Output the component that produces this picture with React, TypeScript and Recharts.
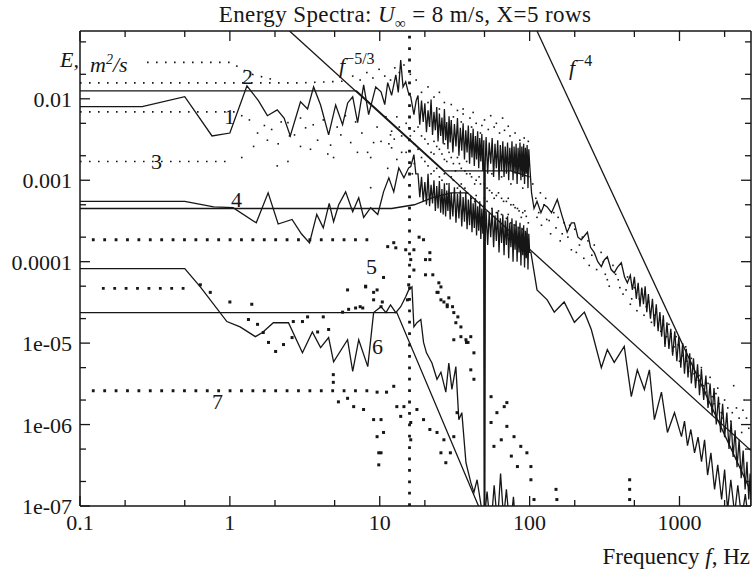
import React from "react";
import { ComposedChart, Line, Scatter, XAxis, YAxis, ReferenceLine } from "recharts";

type Pt = [number, number | null];

// plot box in page pixels
const PL = 80;
const PR = 751;
const PT = 31;
const PB = 506;

const X_TICKS = [0.1, 0.2, 0.5, 1, 2, 5, 10, 20, 50, 100, 200, 500, 1000, 2000];
const X_LABELS = new Map<number, string>([
  [0.1, "0.1"],
  [1, "1"],
  [10, "10"],
  [100, "100"],
  [1000, "1000"],
]);
const Y_TICKS = [
  1e-7, 2e-7, 5e-7, 1e-6, 2e-6, 5e-6, 1e-5, 2e-5, 5e-5, 1e-4, 2e-4, 5e-4, 0.001, 0.002, 0.005, 0.01,
  0.02, 0.05,
];
const Y_LABELS = new Map<number, string>([
  [1e-7, "1e-07"],
  [1e-6, "1e-06"],
  [1e-5, "1e-05"],
  [1e-4, "0.0001"],
  [0.001, "0.001"],
  [0.01, "0.01"],
]);

// spectrum 1 (upper solid), low frequencies
const curve1Low: Pt[] = [
  [0.1, 0.008], [0.26, 0.008], [0.5, 0.0106], [0.76, 0.0035], [1.0, 0.0038], [1.3, 0.0144],
  [1.55, 0.0095], [1.78, 0.0062], [2.07, 0.0073], [2.3, 0.0058], [2.53, 0.0035], [2.96, 0.0092],
  [3.3, 0.0075], [3.62, 0.014], [4.03, 0.0084], [4.56, 0.0036], [5.08, 0.0084], [5.65, 0.0048],
  [6.11, 0.0089], [6.6, 0.0106], [7.12, 0.0051], [7.81, 0.0148], [8.43, 0.0064], [9.4, 0.014],
  [10.2, 0.0122], [10.8, 0.0085], [11.3, 0.0158], [12.0, 0.011], [12.8, 0.0197], [13.3, 0.012],
  [13.8, 0.03], [14.3, 0.014], [14.9, 0.0162], [15.5, 0.012], [16.1, 0.0106], [16.9, 0.0064],
  [17.5, 0.0095],
];

// frequencies of the dense 18-100 Hz records (spectra 1 and 4)
const bandF = [
  18, 18.5, 19, 19.5, 20, 20.5, 21, 21.5, 22, 22.5, 23, 23.5, 24, 24.5, 25, 25.5, 26, 26.5, 27, 27.5,
  28, 28.5, 29, 29.5, 30, 30.75, 31.5, 32.25, 33, 33.75, 34.5, 35.25, 36, 36.75, 37.5, 38.25, 39, 39.75,
  40.5, 41.25, 42, 42.75, 43.5, 44.25, 45, 45.75, 46.5, 47.25, 48, 48.75, 49.5, 50, 50.5, 51.25, 52.5,
  53.75, 55, 56.25, 57.5, 58.75, 60, 61.25, 62.5, 63.75, 65, 66.25, 67.5, 68.75, 70, 71.25, 72.5, 73.75,
  75, 76.25, 77.5, 78.75, 80, 81.25, 82.5, 83.75, 85, 86.25, 87.5, 88.75, 90, 91.25, 92.5, 93.75, 95,
  96.25, 97.5, 98.75, 100,
];
const band1E = [
  0.011, 0.0048, 0.0095, 0.0052, 0.0088, 0.0039, 0.0072, 0.0045, 0.0098, 0.0036, 0.0069, 0.0041, 0.0079,
  0.003, 0.0066, 0.0035, 0.0059, 0.0028, 0.0075, 0.0031, 0.0052, 0.0024, 0.0061, 0.0029, 0.0055, 0.0022,
  0.0049, 0.0026, 0.0058, 0.002, 0.0044, 0.0023, 0.005, 0.0018, 0.0041, 0.0022, 0.0047, 0.0016, 0.0038,
  0.0019, 0.0043, 0.0015, 0.0035, 0.0018, 0.004, 0.0014, 0.0033, 0.0017, 0.0037, 0.0013, 0.0031, 1e-8,
  0.0015, 0.0034, 0.0012, 0.0029, 0.0016, 0.0033, 0.0011, 0.0028, 0.0014, 0.0031, 0.001, 0.0027, 0.0013,
  0.003, 0.0011, 0.0026, 0.0012, 0.0029, 0.001, 0.0025, 0.0013, 0.003, 0.001, 0.0026, 0.0012, 0.0028,
  0.0009, 0.0025, 0.0012, 0.0029, 0.001, 0.0026, 0.0011, 0.0028, 0.0009, 0.0025, 0.0012, 0.0027, 0.0008,
  0.0024, 0.0016,
];
const band4E = [
  0.0012, 0.00062, 0.0011, 0.00055, 0.00095, 0.0005, 0.0012, 0.00048, 0.00088, 0.00052, 0.001, 0.00042,
  0.00085, 0.00045, 0.00098, 0.0004, 0.00078, 0.00038, 0.00092, 0.00036, 0.00075, 0.00042, 0.00088,
  0.00033, 0.0007, 0.00036, 0.00082, 0.0003, 0.00068, 0.00034, 0.00075, 0.00027, 0.00062, 0.00031,
  0.0007, 0.00025, 0.00058, 0.00028, 0.00065, 0.00023, 0.00052, 0.00026, 0.0006, 0.00021, 0.00048,
  0.00024, 0.00055, 0.00019, 0.00045, 0.00022, 0.0005, 1e-8, 0.00018, 0.00042, 0.00016, 0.0004, 0.0002,
  0.00045, 0.00015, 0.00037, 0.00018, 0.00041, 0.00013, 0.00034, 0.00017, 0.00038, 0.00012, 0.00032,
  0.00016, 0.00036, 0.00011, 0.0003, 0.00015, 0.00034, 0.0001, 0.00029, 0.00014, 0.00032, 0.0001,
  0.00027, 0.00013, 0.0003, 0.00009, 0.00026, 0.00012, 0.00028, 0.000085, 0.00024, 0.00011, 0.00026,
  0.00008, 0.00022, 0.00013,
];

// spectrum 1 above 100 Hz
const curve1High: Pt[] = [
  [103, 0.0007], [107, 0.00045], [112, 0.00055], [119, 0.0004], [125, 0.0005], [131, 0.00047],
  [140, 0.0004], [153, 0.00058], [165, 0.00036], [178, 0.00023], [190, 0.0003], [199, 0.0003],
  [210, 0.0002], [221, 0.000186], [243, 0.00023], [255, 0.00015], [270, 0.000129], [285, 0.0001],
  [301, 8.7e-5], [315, 0.000105], [330, 0.000115], [350, 8e-5], [367, 7.3e-5], [385, 8.5e-5],
  [409, 9.7e-5], [430, 6.5e-5], [449, 5.5e-5], [470, 6.8e-5], [485, 4.5e-5], [500, 6.5e-5],
  [515, 3.5e-5], [530, 5.5e-5], [545, 2.8e-5], [560, 4.8e-5], [575, 3e-5], [590, 5e-5], [605, 2.4e-5],
  [620, 4e-5], [640, 2e-5], [660, 3.5e-5], [680, 1.6e-5], [700, 3e-5], [720, 1.4e-5], [740, 2.4e-5],
  [760, 1.2e-5], [780, 2.2e-5], [800, 9e-6], [825, 1.8e-5], [850, 8.5e-6], [875, 1.5e-5], [900, 7e-6],
  [930, 1.4e-5], [960, 6e-6], [990, 1.2e-5], [1020, 5e-6], [1050, 1e-5], [1080, 4.2e-6], [1110, 8.5e-6],
  [1140, 3.8e-6], [1170, 7.5e-6], [1200, 3.2e-6], [1240, 6.5e-6], [1280, 2.8e-6], [1320, 5.5e-6],
  [1360, 2.3e-6], [1400, 4.8e-6], [1450, 2e-6], [1500, 4e-6], [1550, 1.6e-6], [1600, 3.2e-6],
  [1650, 1.3e-6], [1700, 2.8e-6], [1760, 1e-6], [1820, 2.2e-6], [1880, 8e-7], [1940, 1.8e-6],
  [2000, 7e-7], [2070, 1.4e-6], [2140, 5e-7], [2210, 1.1e-6], [2280, 4e-7], [2350, 8.5e-7], [2420, 3e-7],
  [2500, 6.5e-7], [2580, 2.2e-7], [2660, 4.8e-7], [2740, 1.6e-7], [2820, 3.5e-7], [2900, 1.2e-7],
  [2960, 2.5e-7], [3000, 1e-7],
];

// spectrum 4 (middle solid)
const curve4Low: Pt[] = [
  [0.1, 0.00055], [0.5, 0.00055], [0.78, 0.00047], [1.05, 0.00046], [1.5, 0.0003], [1.8, 0.0007],
  [2.1, 0.00029], [2.6, 0.00033], [3.0, 0.00022], [3.4, 0.00017], [3.8, 0.00038], [4.2, 0.00026],
  [4.6, 0.00052], [4.92, 0.00031], [5.32, 0.0005], [5.92, 0.00072], [6.6, 0.00041], [7.24, 0.00061],
  [7.81, 0.00035], [8.7, 0.00046], [9.7, 0.00038], [10.6, 0.00072], [11.5, 0.00107], [12.4, 0.00072],
  [13.4, 0.00142], [14.5, 0.00107], [15.6, 0.00142], [16.1, 0.00147], [16.9, 0.00206], [17.4, 0.0012],
];
const curve4High: Pt[] = [
  [102, 0.00013], [112, 4.5e-5], [131, 3.4e-5], [146, 2.4e-5], [170, 3.2e-5], [199, 1.8e-5],
  [232, 2.4e-5], [258, 1.47e-5], [301, 5e-6], [330, 8.3e-6], [367, 5.8e-6], [428, 9.1e-6], [477, 2.2e-6],
  [523, 4.7e-6], [583, 2.7e-6], [630, 4.7e-6], [680, 1.15e-6], [758, 2.5e-6], [831, 8e-7], [926, 1.4e-6],
  [1031, 7.1e-7], [1080, 1.1e-6], [1131, 5.5e-7], [1190, 8.7e-7], [1260, 4.5e-7], [1330, 7e-7],
  [1403, 3.5e-7], [1470, 6.5e-7], [1540, 2.4e-7], [1620, 4.5e-7], [1714, 1.6e-7], [1800, 3.2e-7],
  [1910, 1.2e-7], [2000, 2.8e-7], [2094, 9e-8], [2200, 2.1e-7], [2333, 8e-8], [2450, 1.8e-7],
  [2600, 7e-8], [2750, 1.4e-7], [2900, 6e-8],
];

// spectrum 6 (lower solid)
const curve6: Pt[] = [
  [0.1, 8.2e-5], [0.5, 8.2e-5], [0.635, 4.9e-5], [0.955, 1.84e-5], [1.17, 1.58e-5], [1.48, 1.2e-5],
  [1.65, 1.35e-5], [1.95, 1.78e-5], [2.46, 1.78e-5], [3.05, 7.6e-6], [3.55, 1.37e-5], [4.03, 8.8e-6],
  [4.56, 1.17e-5], [4.92, 5.9e-6], [6.1, 1.1e-5], [6.6, 4.5e-6], [7.24, 1.1e-5], [8.32, 5.15e-6],
  [9.1, 2.37e-5], [10.2, 2.8e-5], [11.0, 2.37e-5], [11.8, 2.95e-5], [12.8, 2.37e-5], [13.8, 2.8e-5],
  [14.9, 3.7e-5], [15.6, 4.5e-5], [16.4, 4.9e-5], [16.9, 1.58e-5], [17.7, 1.78e-5], [18.8, 1.95e-5],
  [19.6, 1.02e-5], [20.5, 7.6e-6], [22.3, 5.7e-6], [24.1, 3.6e-6], [25.6, 4.4e-6], [27.6, 2.5e-6],
  [28.9, 5.7e-6], [30.3, 2.7e-6], [32.2, 5.15e-6], [33.7, 1.15e-6], [35.3, 1.4e-6], [37.6, 3.4e-7],
  [40.5, 1.95e-7], [42.5, 1.47e-7], [44.6, 2.1e-7], [47.5, 1e-7], [49, 5e-8], [52, 1.5e-7],
  [55, 5e-8], [58, 1.8e-7], [61, 6e-8], [64, 2.5e-7], [67, 7e-8], [70, 1.6e-7], [74, 5e-8],
  [78, 1.3e-7], [82, 4e-8],
];

// smooth model spectra
const model1: Pt[] = [[0.1, 0.0125], [7, 0.0125], [27, 0.0013], [75, 0.0013], [100, 0.0011]];
const model4: Pt[] = [[0.1, 0.00045], [12, 0.00045], [17, 0.0005], [23, 0.00062], [30, 0.0007], [39, 0.0007]];
const model6: Pt[] = [[0.1, 2.37e-5], [13, 2.37e-5], [48, 8e-8]];

// slope guides
const slope53: Pt[] = [[2.5, 0.068], [3000, 4.8e-7]];
const slope4: Pt[] = [[112, 0.068], [3000, 1.5e-7]];

// dotted spectra: flat parts
const dotA: Pt[] = [[0.28, 0.028], [1.0, 0.028], [1.4, 0.02], [2.0, 0.017]];
const dotB: Pt[] = [[0.1, 0.0157], [3.0, 0.0157], [6.0, 0.0165]];
const dotC: Pt[] = [[0.1, 0.0069], [1.1, 0.0069]];
const dotD: Pt[] = [[0.1, 0.0017], [1.0, 0.0017]];
const dot5: Pt[] = [[0.12, 0.000186], [9, 0.000186]];
const spike5: Pt[] = [[15.8, 1e-7], [15.8, 0.068]];
const dotF: Pt[] = [[0.14, 4.7e-5], [0.55, 4.7e-5]];
const dot7: Pt[] = [[0.12, 2.6e-6], [9.5, 2.6e-6]];

// small scattered dots (spectra 2, 3)
const fineDots: Pt[] = [
  [1.2, 0.0062], [1.35, 0.0055], [1.53, 0.0038], [1.7, 0.0047], [1.9, 0.0042], [2.07, 0.0015],
  [2.2, 0.0052], [2.44, 0.0051], [2.44, 0.0017], [2.7, 0.0036], [2.96, 0.0026], [2.96, 0.0058],
  [3.2, 0.0044], [3.45, 0.0024], [3.6, 0.0048], [3.85, 0.0031], [4.2, 0.0055], [4.5, 0.0021],
  [4.7, 0.0027], [4.92, 0.0019], [5.2, 0.0045], [5.5, 0.0036], [5.9, 0.0062], [6.4, 0.0029],
  [6.9, 0.0052], [7.1, 0.0022], [7.6, 0.0038], [8.3, 0.0022], [8.7, 0.0019], [8.7, 0.00081],
  [9.1, 0.0029], [9.6, 0.0045], [10.2, 0.003], [11.3, 0.0014], [11.8, 0.0036],
  [1.2, 0.0019], [1.44, 0.0026], [1.78, 0.0031], [2.1, 0.0028], [2.5, 0.0035],
  [6.6, 0.019], [7.4, 0.017], [8.2, 0.021], [9.0, 0.018], [9.9, 0.023], [10.8, 0.019],
  [11.8, 0.017], [12.6, 0.024], [13.5, 0.021], [14.5, 0.026], [16, 0.02], [17.5, 0.017],
  [19, 0.012], [21, 0.014], [23, 0.0105], [25, 0.012], [27, 0.009], [30, 0.0085], [33, 0.0072],
  [36, 0.0065], [40, 0.0058], [44, 0.005], [48, 0.0047], [53, 0.0042], [58, 0.0045], [63, 0.0038],
  [68, 0.0041], [74, 0.0035], [80, 0.0038], [86, 0.0031], [92, 0.0033], [98, 0.003],
  [36, 0.0075], [42, 0.0068], [50, 0.0055], [55, 0.0062], [60, 0.005], [66, 0.0058], [72, 0.0046],
  [12, 0.004], [12, 0.0025], [13, 0.006], [13, 0.0018], [14, 0.0035], [15, 0.005], [15, 0.0022],
  [17, 0.004], [17, 0.0016], [17, 0.0028], [19, 0.0035], [19, 0.0019], [21, 0.0028], [21, 0.0015],
  [21, 0.009], [23, 0.003], [23, 0.0013], [23, 0.0021], [25, 0.0024], [25, 0.0011], [25, 0.0075],
  [27, 0.0018], [27, 0.0012], [27, 0.0028], [29, 0.0022], [29, 0.0009], [31, 0.0016], [31, 0.001],
  [31, 0.006], [33, 0.0019], [33, 0.0008], [35, 0.0014], [35, 0.0009], [35, 0.0052], [38, 0.0012],
  [38, 0.0007], [38, 0.0017], [41, 0.0011], [41, 0.0006], [41, 0.0045], [44, 0.001], [44, 0.00065],
  [47, 0.0009], [47, 0.0005], [47, 0.0038], [52, 0.0008], [52, 0.00055], [56, 0.0007], [56, 0.00045],
  [56, 0.0012], [60, 0.00065], [60, 0.0004], [65, 0.0006], [65, 0.00038], [65, 0.0011], [70, 0.00055],
  [70, 0.00034], [75, 0.0005], [75, 0.0003], [75, 0.0009], [80, 0.00046], [80, 0.00028], [85, 0.00042],
  [85, 0.00026], [90, 0.0004], [90, 0.00025], [90, 0.0008], [95, 0.00036], [95, 0.00022],
  [11, 0.006], [11.5, 0.0028], [12.5, 0.0032], [13.5, 0.0045], [14, 0.0022], [16, 0.0035], [16.5, 0.0012],
  [18, 0.0045], [18, 0.0024], [20, 0.0032], [20, 0.0017], [22, 0.0022], [22, 0.0012], [24, 0.0026],
  [24, 0.0014], [26, 0.0021], [26, 0.001], [28, 0.0017], [28, 0.0009], [30, 0.0019], [30, 0.0011],
  [32, 0.0013], [34, 0.0016], [34, 0.00085], [37, 0.0013], [37, 0.0008], [40, 0.0012], [43, 0.0009],
  [43, 0.00055], [46, 0.0011], [50, 0.0009], [50, 0.0006], [54, 0.00075], [58, 0.0006], [62, 0.0007],
  [62, 0.00042], [67, 0.00055], [72, 0.0006], [72, 0.00038], [78, 0.0005], [83, 0.00045], [88, 0.00035],
  [93, 0.00042], [98, 0.0003],
  [105, 0.0009], [110, 0.0006], [112, 0.00035], [115, 0.0004], [118, 0.0007], [120, 0.00028],
  [125, 0.0005], [128, 0.0006], [130, 0.00033], [135, 0.00032], [138, 0.00022], [145, 0.0004],
  [150, 0.00026], [155, 0.00035], [160, 0.00018], [165, 0.00022], [170, 0.0003], [180, 0.0002],
  [185, 0.00028], [190, 0.00014], [200, 0.00025], [205, 0.00013], [215, 0.00016], [225, 0.0002],
  [230, 0.00011], [245, 0.00018], [250, 9e-5], [260, 0.00012], [270, 0.00016], [280, 8e-5], [300, 0.00013],
  [310, 0.0001], [320, 7e-5], [330, 6e-5], [340, 5e-5], [360, 9e-5], [375, 7e-5], [390, 6e-5], [400, 4.8e-5],
  [420, 4e-5], [440, 4.5e-5], [450, 6.5e-5], [470, 3e-5], [480, 3.5e-5], [500, 4.8e-5], [520, 2.5e-5],
  [540, 3.5e-5], [560, 4.5e-5], [580, 2.2e-5], [600, 2.8e-5], [620, 3.2e-5], [650, 1.8e-5], [680, 2.2e-5],
  [700, 2.6e-5], [720, 1.6e-5], [750, 1.4e-5], [780, 1.9e-5], [800, 1e-5], [820, 1.2e-5], [850, 1.7e-5],
  [880, 1.3e-5], [900, 8e-6], [920, 9e-6], [950, 1.2e-5], [980, 9.5e-6], [1000, 6e-6], [1050, 7e-6],
  [1100, 9e-6], [1120, 6e-6], [1150, 4.5e-6], [1200, 6.5e-6], [1250, 4.2e-6], [1300, 3.5e-6],
  [1350, 4e-6], [1400, 5e-6], [1450, 3e-6], [1500, 2.5e-6], [1550, 3.2e-6], [1600, 3.8e-6],
  [1650, 2.2e-6], [1700, 1.8e-6], [1750, 2.4e-6], [1800, 2.8e-6], [1850, 1.8e-6], [1900, 1.4e-6],
  [1950, 1.2e-6], [2000, 2e-6], [2100, 1.6e-6], [2200, 1.1e-6], [2250, 1.4e-6], [2300, 3e-6],
  [2400, 1.6e-6], [2500, 1.2e-6], [2600, 8e-7], [2650, 1.5e-6], [2700, 2e-6], [2800, 1.2e-6],
  [2900, 9e-7],
];

// large scattered dots (spectra 5, 7 and the one starting at 5e-5)
const bigDots: Pt[] = [
  [0.635, 5.2e-5], [0.74, 4.2e-5], [1.0, 3.2e-5], [1.4, 3e-5], [1.33, 1.95e-5], [1.53, 1.7e-5],
  [1.67, 1.35e-5], [1.81, 1.02e-5], [2.02, 7.9e-6], [2.28, 9.6e-6], [2.6, 1.17e-5], [2.65, 1.84e-5],
  [3.05, 1.84e-5], [3.3, 2.1e-5], [3.85, 1.37e-5], [4.2, 2.1e-5], [4.56, 1.47e-5], [4.9, 4.1e-6],
  [4.9, 3.3e-6], [5.65, 2.4e-5], [6.2, 2.6e-5], [6.9, 2.7e-5], [7.7, 2.7e-5], [6.1, 4.5e-5],
  [8.05, 5e-5], [9.1, 3.4e-5],
  [5.3, 1.9e-6], [6.1, 2.1e-6], [6.7, 1.66e-6], [7.8, 1.53e-6], [9.1, 1.15e-6], [9.6, 7.1e-7],
  [9.85, 4.5e-7], [9.85, 3.2e-7], [9.6, 2.5e-6], [10.2, 1.15e-6], [10.6, 8e-7], [10.2, 4.5e-7],
  [11.3, 0.000153], [12.4, 0.000171], [12.8, 0.000148], [14.9, 0.00014], [16.9, 0.00014],
  [18.3, 0.0002], [19.6, 0.000186], [20.2, 0.000106], [21.6, 0.000129], [21.6, 0.000106],
  [16.1, 0.000106], [16.9, 7.9e-5], [20.2, 6.9e-5], [22.6, 6.9e-5], [24.8, 5.5e-5], [25.6, 4.9e-5],
  [24.5, 4.2e-5], [26.8, 3.2e-5], [28.2, 2.95e-5], [28.9, 3.6e-5], [30.6, 2.8e-5], [31.2, 2.37e-5],
  [33.2, 2.1e-5], [32.2, 1.78e-5], [34.8, 1.58e-5], [37.6, 1.1e-5], [38.8, 1.02e-5], [40.5, 1.2e-5],
  [9.1, 4.2e-5], [10.6, 6.4e-5], [8.05, 4.9e-5], [7.4, 2.8e-5], [10.4, 3.2e-5], [15.6, 5.2e-5],
  [15.3, 3.4e-5], [10.2, 2.8e-5], [9.6, 4.5e-5],
  [12.4, 2.95e-6], [11.1, 2.5e-6], [13.0, 1.66e-6], [13.8, 1.26e-6], [14.5, 1.66e-6],
  [16.1, 1.06e-6], [17.7, 1.53e-6], [19.6, 1.15e-6], [21.6, 8.7e-7], [24.1, 8e-7], [26.8, 6.5e-7],
  [25.6, 4.5e-7], [27.6, 3.4e-7], [16.1, 6.5e-7],
  [24.1, 4.2e-5], [25.6, 3.4e-5], [28.2, 2.8e-5], [31.2, 1.1e-5], [34.8, 1.2e-5], [37.9, 1.02e-5],
  [42.5, 7.6e-6], [40.5, 4.7e-6], [42.5, 3.6e-6], [32.8, 1.4e-6], [31.2, 7.1e-7], [29.6, 4.5e-7],
  [55.3, 2.2e-6], [60.5, 1.4e-6], [67.7, 1.66e-6], [70.5, 9.5e-7], [78.7, 7.1e-7], [87.3, 5.4e-7],
  [95.9, 4.5e-7], [82.9, 3.05e-7], [102, 3.05e-7], [107, 1.2e-7], [64.7, 6.5e-7], [55.3, 1.06e-6],
  [70.5, 1.86e-6], [57.8, 5.4e-7], [75.5, 4.1e-7], [102, 2.1e-7], [150, 1.6e-7], [152, 1.2e-7],
  [465, 2.1e-7], [465, 1.6e-7], [465, 1.2e-7],
];

const toRows = (pts: Pt[]) => pts.map(([f, e]) => ({ f, e }));
const zipRows = (fs: number[], es: number[]) => fs.map((f, i) => ({ f, e: es[i] }));

const INK = "#161616";
const FONT = '"Liberation Serif", "DejaVu Serif", serif';

function XTick(props: any) {
  const { x, payload } = props;
  const label = X_LABELS.get(payload.value);
  const len = label ? 10 : 6;
  return (
    <g>
      <line x1={x} x2={x} y1={PB} y2={PB - len} stroke={INK} strokeWidth={1.3} />
      <line x1={x} x2={x} y1={PT} y2={PT + len} stroke={INK} strokeWidth={1.3} />
      {label && (
        <text x={x} y={PB + 24} textAnchor="middle" fontFamily={FONT} fontSize={22} fill={INK}>
          {label}
        </text>
      )}
    </g>
  );
}

function YTick(props: any) {
  const { y, payload } = props;
  const label = Y_LABELS.get(payload.value);
  const len = label ? 10 : 6;
  return (
    <g>
      <line x1={PL} x2={PL + len} y1={y} y2={y} stroke={INK} strokeWidth={1.3} />
      <line x1={PR} x2={PR - len} y1={y} y2={y} stroke={INK} strokeWidth={1.3} />
      {label && (
        <text x={72} y={y + 8} textAnchor="end" fontFamily={FONT} fontSize={22} fill={INK}>
          {label}
        </text>
      )}
    </g>
  );
}

const fineShape = (p: any) => <rect x={p.cx - 0.8} y={p.cy - 0.8} width={1.6} height={1.6} fill={INK} />;
const bigShape = (p: any) => <rect x={p.cx - 1.5} y={p.cy - 1.5} width={3} height={3} fill={INK} />;

const txt: React.CSSProperties = {
  position: "absolute",
  fontFamily: FONT,
  fontSize: 22,
  lineHeight: "22px",
  color: INK,
  whiteSpace: "nowrap",
};

export default function App() {
  const solid = (rows: { f: number; e: number | null }[], key: string, w = 1.3) => (
    <Line
      key={key}
      data={rows}
      dataKey="e"
      stroke={INK}
      strokeWidth={w}
      dot={false}
      isAnimationActive={false}
    />
  );
  const dotted = (pts: Pt[], key: string, big: boolean) => (
    <Line
      key={key}
      data={toRows(pts)}
      dataKey="e"
      stroke={INK}
      strokeWidth={big ? 2.8 : 1.6}
      strokeDasharray={big ? "2.8 8.6" : "1.6 7.4"}
      dot={false}
      isAnimationActive={false}
    />
  );

  const curve1Rows = [...toRows(curve1Low), ...zipRows(bandF, band1E), ...toRows(curve1High)];
  const curve4Rows = [...toRows(curve4Low), ...zipRows(bandF, band4E), ...toRows(curve4High)];

  return (
    <div style={{ position: "absolute", left: 0, top: 0, width: 753, height: 571, background: "#fff" }}>
      <ComposedChart width={753} height={571} margin={{ top: PT, right: 2, bottom: 0, left: 0 }}>
        <XAxis
          type="number"
          dataKey="f"
          scale="log"
          domain={[0.1, 3000]}
          allowDataOverflow
          ticks={X_TICKS}
          interval={0}
          tick={XTick}
          tickLine={false}
          axisLine={{ stroke: INK, strokeWidth: 1.5 }}
          height={65}
        />
        <YAxis
          type="number"
          dataKey="e"
          scale="log"
          domain={[1e-7, 0.068]}
          allowDataOverflow
          ticks={Y_TICKS}
          interval={0}
          tick={YTick}
          tickLine={false}
          axisLine={{ stroke: INK, strokeWidth: 1.5 }}
          width={80}
        />
        <ReferenceLine y={0.068} stroke={INK} strokeWidth={1.5} />
        <ReferenceLine x={3000} stroke={INK} strokeWidth={1.5} />

        {dotted(dotA, "dA", false)}
        {dotted(dotB, "dB", false)}
        {dotted(dotC, "dC", false)}
        {dotted(dotD, "dD", false)}
        {dotted(dot5, "d5", true)}
        {dotted(spike5, "s5", true)}
        {dotted(dotF, "dF", true)}
        {dotted(dot7, "d7", true)}
        <Scatter data={toRows(fineDots)} dataKey="e" shape={fineShape} isAnimationActive={false} />
        <Scatter data={toRows(bigDots)} dataKey="e" shape={bigShape} isAnimationActive={false} />

        {solid(toRows(model1), "m1")}
        {solid(toRows(model4), "m4")}
        {solid(toRows(model6), "m6")}
        {solid(toRows(slope53), "k53")}
        {solid(toRows(slope4), "k4")}
        {solid(curve1Rows, "c1", 1.3)}
        {solid(curve4Rows, "c4", 1.3)}
        {solid(toRows(curve6), "c6", 1.3)}
      </ComposedChart>

      <div style={{ ...txt, left: 0, width: 810, top: 4, textAlign: "center", fontSize: 23, letterSpacing: 0.4 }}>
        Energy Spectra: <i>U</i>
        <sub style={{ fontSize: 15 }}>∞</sub> = 8 m/s, X=5 rows
      </div>
      <div style={{ ...txt, left: 60, top: 49, fontStyle: "italic" }}>E,</div>
      <div style={{ ...txt, left: 90, top: 49, fontStyle: "italic" }}>
        m<sup style={{ fontSize: 14 }}>2</sup>/s
      </div>
      <div style={{ ...txt, left: 339, top: 55 }}>
        <i>f</i>
        <span style={{ fontSize: 16, position: "relative", top: -9 }}>−5/3</span>
      </div>
      <div style={{ ...txt, left: 569, top: 57 }}>
        <i>f</i>
        <span style={{ fontSize: 16, position: "relative", top: -9 }}>−4</span>
      </div>
      <div style={{ ...txt, right: 3, top: 546, fontSize: 23 }}>
        Frequency <i>f</i>, Hz
      </div>
      <div style={{ ...txt, left: 242, top: 66 }}>2</div>
      <div style={{ ...txt, left: 224, top: 106 }}>1</div>
      <div style={{ ...txt, left: 151, top: 151 }}>3</div>
      <div style={{ ...txt, left: 231, top: 189 }}>4</div>
      <div style={{ ...txt, left: 366, top: 256 }}>5</div>
      <div style={{ ...txt, left: 372, top: 336 }}>6</div>
      <div style={{ ...txt, left: 212, top: 391 }}>7</div>
    </div>
  );
}
